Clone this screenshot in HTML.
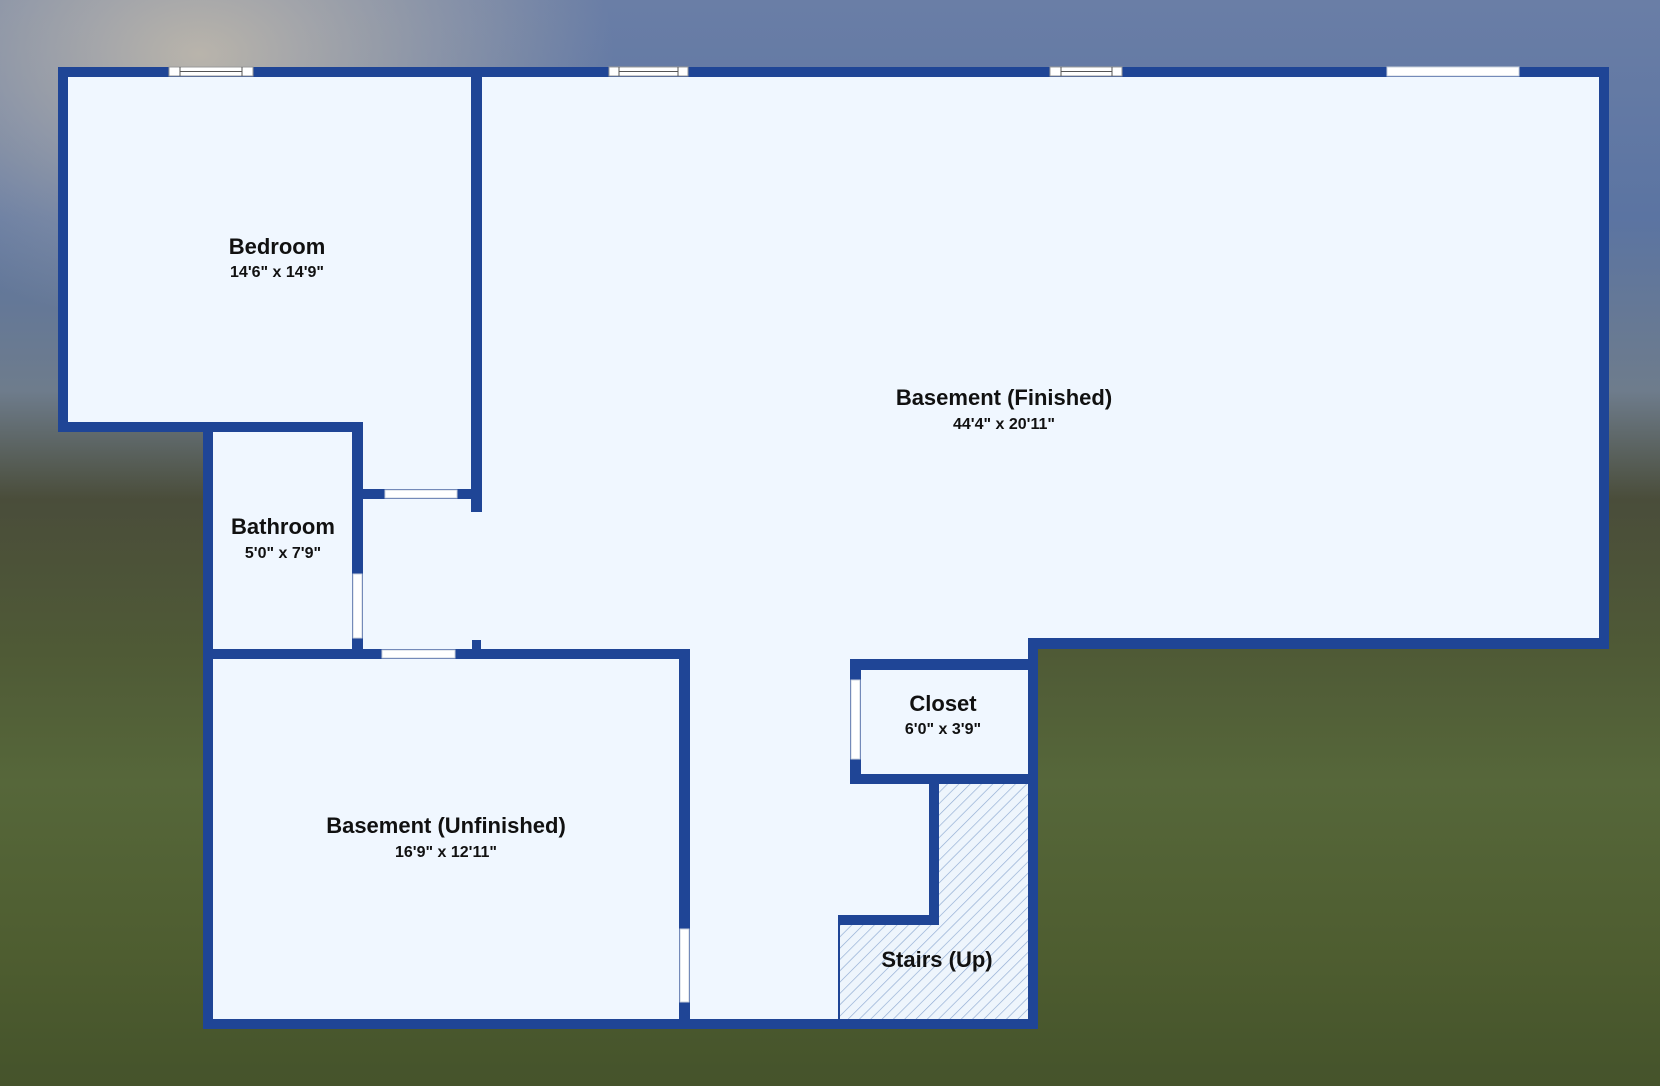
<!DOCTYPE html>
<html><head><meta charset="utf-8"><style>
html,body{margin:0;padding:0;width:1660px;height:1086px;overflow:hidden}
body{background:linear-gradient(180deg,#6a7ea6 0%,#5b74a2 20%,#6e7c8c 36%,#4a4d3a 46%,#4f5a36 60%,#56673a 72%,#4e5d30 88%,#45532b 100%);}
text{font-family:"Liberation Sans",sans-serif;font-weight:bold;fill:#111;text-anchor:middle}
</style></head><body>
<svg width="1660" height="1086" viewBox="0 0 1660 1086" style="position:absolute;left:0;top:0">
<defs>
<radialGradient id="g1" cx="0.12" cy="0.05" r="0.25"><stop offset="0" stop-color="#b9b4ab"/><stop offset="1" stop-color="#b9b4ab" stop-opacity="0"/></radialGradient>
<pattern id="h" width="8" height="8" patternUnits="userSpaceOnUse" patternTransform="rotate(45)"><rect width="8" height="8" fill="#eef5fc"/><line x1="0" y1="0" x2="0" y2="8" stroke="#8eaad2" stroke-width="1.3"/></pattern>
</defs>
<rect width="1660" height="1086" fill="url(#g1)"/>
<polygon points="63,72 1604,72 1604,643 1033,643 1033,1024 208,1024 208,427 63,427" fill="#f0f7ff"/>
<polygon points="939,784 1028,784 1028,1019 840,1019 840,925 939,925" fill="url(#h)"/>
<g fill="#1f4596">
<rect x="58" y="67" width="1551" height="10"/>
<rect x="58" y="67" width="10" height="365"/>
<rect x="1599" y="67" width="10" height="582"/>
<rect x="58" y="422" width="305" height="10"/>
<rect x="203" y="422" width="10" height="607"/>
<rect x="352" y="422" width="11" height="237"/>
<rect x="471" y="67" width="11" height="445"/>
<rect x="352" y="489" width="119" height="10"/>
<rect x="203" y="649" width="487" height="10"/>
<rect x="472" y="640" width="9" height="19"/>
<rect x="679" y="649" width="11" height="380"/>
<rect x="203" y="1019" width="835" height="10"/>
<rect x="1028" y="638" width="581" height="11"/>
<rect x="1028" y="638" width="10" height="391"/>
<rect x="850" y="659" width="188" height="11"/>
<rect x="850" y="659" width="11" height="125"/>
<rect x="850" y="774" width="188" height="10"/>
<rect x="929" y="774" width="10" height="151"/>
<rect x="838" y="915" width="101" height="10"/>
<rect x="838" y="925" width="2" height="94"/>
</g>
<g fill="#fff" stroke="#c8d0dc" stroke-width="1">
<rect x="385" y="490" width="72" height="8"/>
<rect x="382" y="650" width="73" height="8"/>
<rect x="353" y="574" width="9" height="64"/>
<rect x="680" y="929" width="9" height="73"/>
<rect x="851" y="680" width="9" height="79"/>
<rect x="1387" y="67" width="132" height="9"/>
</g>
<g fill="#fff" stroke="#999" stroke-width="1">
<rect x="169" y="67" width="84" height="9"/>
<rect x="609" y="67" width="79" height="9"/>
<rect x="1050" y="67" width="72" height="9"/>
</g>
<g stroke="#555" stroke-width="1">
<line x1="180" y1="67" x2="180" y2="76"/><line x1="242" y1="67" x2="242" y2="76"/><line x1="180" y1="71.5" x2="242" y2="71.5"/>
<line x1="619" y1="67" x2="619" y2="76"/><line x1="678" y1="67" x2="678" y2="76"/><line x1="619" y1="71.5" x2="678" y2="71.5"/>
<line x1="1061" y1="67" x2="1061" y2="76"/><line x1="1112" y1="67" x2="1112" y2="76"/><line x1="1061" y1="71.5" x2="1112" y2="71.5"/>
</g>
<text x="277" y="254" font-size="22">Bedroom</text>
<text x="277" y="277" font-size="16">14'6" x 14'9"</text>
<text x="1004" y="405" font-size="22">Basement (Finished)</text>
<text x="1004" y="429" font-size="16">44'4" x 20'11"</text>
<text x="283" y="534" font-size="22">Bathroom</text>
<text x="283" y="558" font-size="16">5'0" x 7'9"</text>
<text x="446" y="833" font-size="22">Basement (Unfinished)</text>
<text x="446" y="857" font-size="16">16'9" x 12'11"</text>
<text x="943" y="711" font-size="22">Closet</text>
<text x="943" y="734" font-size="16">6'0" x 3'9"</text>
<text x="937" y="967" font-size="22">Stairs (Up)</text>
</svg>
</body></html>
